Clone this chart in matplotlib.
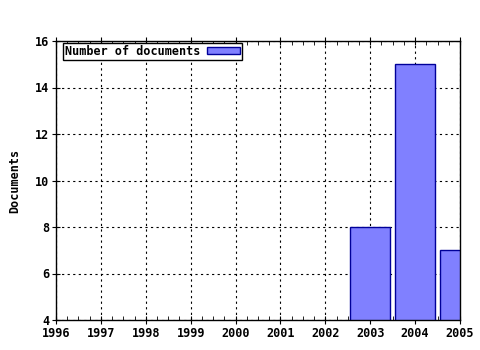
import matplotlib
matplotlib.use("Agg")
import matplotlib.pyplot as plt
from matplotlib.ticker import MultipleLocator

years = [2003, 2004, 2005]
docs = [8, 15, 7]
year_ticks = list(range(1996, 2006))

plt.rcParams['font.family'] = 'DejaVu Sans Mono'
plt.rcParams['font.weight'] = 'bold'
plt.rcParams['font.size'] = 8.5

fig = plt.figure(figsize=(4.8, 3.5), dpi=100)
ax = fig.add_axes([56 / 480, 30 / 350, 404 / 480, 279 / 350])

ax.bar(years, docs, width=0.88, color='#8080ff', edgecolor='#000099',
       linewidth=1, label='Number of documents', zorder=2)

ax.set_xlim(1996, 2005)
ax.set_ylim(4, 16)
ax.set_xticks(year_ticks)
ax.xaxis.set_minor_locator(MultipleLocator(0.25))
ax.set_yticks(range(4, 17, 2))
ax.grid(True, which='major', linestyle=(0, (2, 3)), color='black', linewidth=0.8, zorder=0)
ax.tick_params(axis='x', which='major', direction='inout', length=6, top=True, pad=2)
ax.tick_params(axis='x', which='minor', direction='in', length=3, top=True)
ax.tick_params(axis='y', which='major', direction='inout', length=6, pad=2)
for s in ax.spines.values():
    s.set_linewidth(1)

ax.set_ylabel('Documents', fontweight='bold', labelpad=10)

leg = ax.legend(loc='upper left', bbox_to_anchor=(7 / 404, 1 - 2 / 279), borderaxespad=0,
                markerfirst=False, fancybox=False, framealpha=1,
                edgecolor='black', borderpad=0.15, handlelength=2.8, handleheight=0.6,
                handletextpad=0.6, prop={'weight': 'bold', 'size': 8.5})
leg.get_frame().set_linewidth(1)

fig.savefig('out.png', dpi=100)
